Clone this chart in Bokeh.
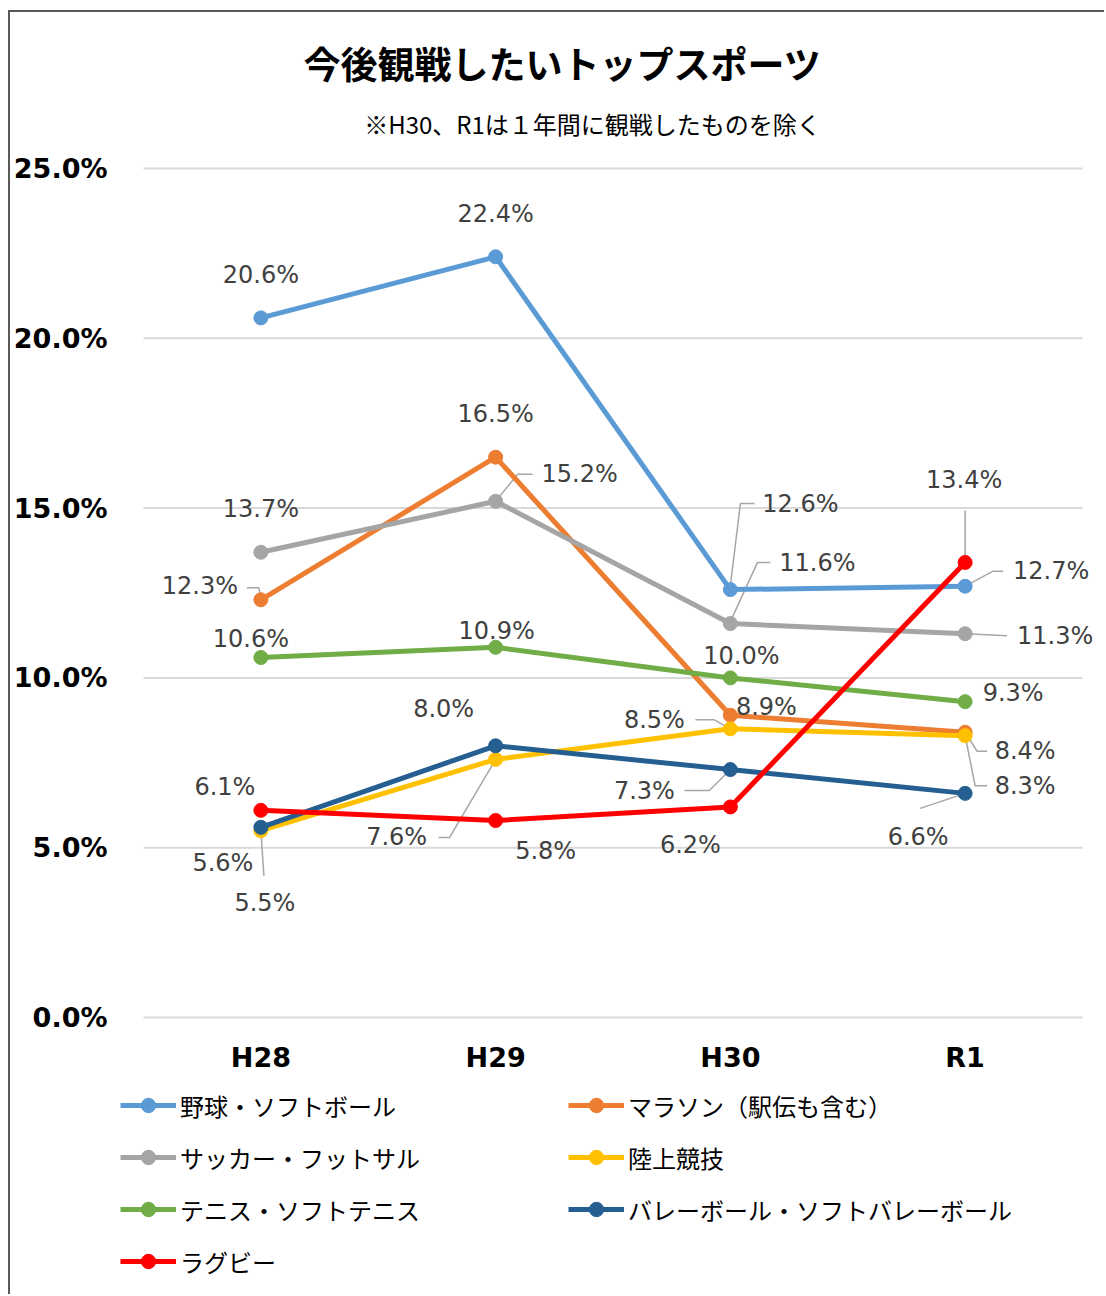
from bokeh.plotting import figure
from bokeh.models import (Range1d, FixedTicker, PrintfTickFormatter, Legend, LegendItem,
                          Label, LabelSet, ColumnDataSource)
from bokeh.embed import file_html
from bokeh.resources import INLINE
from bokeh.core.properties import value

# ---------------- data ----------------
categories = ["H28", "H29", "H30", "R1"]
baseball = [20.6, 22.4, 12.6, 12.7]
marathon = [12.3, 16.5, 8.9, 8.4]
soccer = [13.7, 15.2, 11.6, 11.3]
athletics = [5.5, 7.6, 8.5, 8.3]
tennis = [10.6, 10.9, 10.0, 9.3]
volleyball = [5.6, 8.0, 7.3, 6.6]
rugby = [6.1, 5.8, 6.2, 13.4]
series_names = ["野球・ソフトボール", "マラソン（駅伝も含む）", "サッカー・フットサル", "陸上競技",
                "テニス・ソフトテニス", "バレーボール・ソフトバレーボール", "ラグビー"]
y_ticks = [0, 5, 10, 15, 20, 25]
title_text = "今後観戦したいトップスポーツ"
subtitle_text = "※H30、R1は１年間に観戦したものを除く"

# ---------------- styles ----------------
colors = ["#5B9BD5", "#ED7D31", "#A5A5A5", "#FFC000", "#70AD47", "#255E91", "#FF0000"]
series = [baseball, marathon, soccer, athletics, tennis, volleyball, rugby]

# label offsets (px, screen: +x right, +y down) and leader polylines in px offsets
label_offsets = [
    [(0, -43), (0, -43), (70, -86), (86, -15)],
    [(-61, -14), (0, -43), (36, -8), (60, 19)],
    [(0, -43), (84, -27), (87, -61), (90, 2)],
    [(4, 72), (-99, 78), (-76, -9), (60, 50)],
    [(-10, -19), (1, -16), (11, -22), (48, -9)],
    [(-38, 36), (-52, -37), (-86, 21), (-47, 44)],
    [(-36, -23), (50, 30), (-40, 38), (-1, -82)],
]
leaders = [
    [None, None, [(0, -4), (10, -86), (24, -86)], [(0, 0), (28, -15), (38, -15)]],
    [[(0, -2), (-2, -12), (-14, -12)], None, None, [(0, 0), (12, 19), (22, 19)]],
    [None, [(0, 0), (22, -27), (37, -27)], [(0, -2), (27, -61), (40, -61)], [(0, 0), (42, 2)]],
    [[(0, 0), (3, 45)], [(0, 0), (-46, 78), (-57, 78)], [(0, 0), (-16, -9), (-35, -9)], [(0, 0), (10, 50), (22, 50)]],
    [None, None, None, None],
    [None, None, [(0, 0), (-21, 21), (-46, 21)], [(0, 0), (-45, 15)]],
    [None, None, None, [(0, 0), (0, -52)]],
]

# page layout (px)
CX0, CY0 = 10, 12            # canvas origin on page (after margin + border)
W, H = 1096, 1284
PLOT_L, PLOT_R, PLOT_T, PLOT_B = 143, 1082, 168, 1017   # value area (0%..25%, 4 categories)
XA0, XA1 = -0.5, 3.5
YA0, YA1 = 0, 25
PX_X = (PLOT_R - PLOT_L) / (XA1 - XA0)
PX_Y = (PLOT_B - PLOT_T) / (YA1 - YA0)


def px_to_data(px, py):
    return (XA0 + (px - PLOT_L) / PX_X, YA0 + (PLOT_B - py) / PX_Y)


X0, Y1 = px_to_data(CX0, CY0)
X1, Y0 = px_to_data(CX0 + W, CY0 + H)

p = figure(width=W, height=H, x_range=Range1d(X0, X1), y_range=Range1d(Y0, Y1),
           output_backend="svg", toolbar_location=None,
           min_border_left=0, min_border_right=0, min_border_top=0, min_border_bottom=0)
p.styles = {"margin-left": "8px", "margin-top": "10px",
            "border-left": "2px solid #595959", "border-top": "2px solid #595959"}
p.outline_line_color = None
p.background_fill_color = "white"
p.border_fill_color = "white"
p.xgrid.visible = False
p.ygrid.visible = False

# horizontal gridlines across the category span
p.segment(x0=[XA0] * len(y_ticks), x1=[XA1] * len(y_ticks), y0=y_ticks, y1=y_ticks,
          line_color="#d9d9d9", line_width=2, level="underlay")

p.yaxis.ticker = FixedTicker(ticks=y_ticks)
p.yaxis.formatter = PrintfTickFormatter(format="%.1f%%")
p.yaxis.fixed_location = XA0
p.xaxis.ticker = FixedTicker(ticks=list(range(len(categories))))
p.xaxis.major_label_overrides = {i: c for i, c in enumerate(categories)}
p.xaxis.fixed_location = YA0
for ax in (p.xaxis, p.yaxis):
    ax.axis_line_color = None
    ax.major_tick_line_color = None
    ax.minor_tick_line_color = None
    ax.major_label_text_font = "DejaVu Sans"
    ax.major_label_text_font_style = "bold"
    ax.major_label_text_font_size = "27px"
    ax.major_label_text_color = "black"
p.yaxis.major_label_standoff = 30
p.xaxis.major_label_standoff = 18

xs = list(range(len(categories)))
items = []
lx, ly, ltxt = [], [], []
seg_xs, seg_ys = [], []
for k, (name, vals, col) in enumerate(zip(series_names, series, colors)):
    lr = p.line(xs, vals, line_color=col, line_width=5)
    sr = p.scatter(xs, vals, marker="circle", size=14, fill_color=col, line_color=col)
    items.append(LegendItem(label=name, renderers=[lr, sr]))
    for i, v in enumerate(vals):
        dx, dy = label_offsets[k][i]
        lx.append(xs[i] + dx / PX_X)
        ly.append(v - dy / PX_Y)
        ltxt.append(f"{v:.1f}%")
        ld = leaders[k][i]
        if ld:
            seg_xs.append([xs[i] + a / PX_X for a, b in ld])
            seg_ys.append([v - b / PX_Y for a, b in ld])

p.multi_line(seg_xs, seg_ys, line_color="#a6a6a6", line_width=1.5, level="underlay")

src = ColumnDataSource(dict(x=lx, y=ly, t=ltxt))
p.add_layout(LabelSet(x="x", y="y", text="t", source=src, text_align="center",
                      text_baseline="middle", text_font=value("DejaVu Sans"),
                      text_font_size="24px", text_color="#404040"))

tx, ty = px_to_data(562, 62)
p.add_layout(Label(x=tx, y=ty, text=title_text, text_align="center", text_baseline="middle",
                   text_font="Noto Sans CJK JP", text_font_style="bold", text_font_size="37px",
                   text_color="black"))
sx, sy = px_to_data(592, 123)
p.add_layout(Label(x=sx, y=sy, text=subtitle_text, text_align="center", text_baseline="middle",
                   text_font="Noto Sans CJK JP", text_font_size="24px", text_color="black"))

# legend: top-left of glyph area at page (120, 1085); 4 rows of 40px + 12px spacing
LEG_L, LEG_B = 120, 1085 + 4 * 40 + 3 * 12
legend = Legend(items=items, location=(LEG_L - CX0, (CY0 + H) - LEG_B),
                orientation="horizontal", ncols=2,
                glyph_width=56, glyph_height=36, label_standoff=4, label_width=376,
                label_height=40, spacing=12, padding=0, margin=0,
                border_line_color=None, background_fill_alpha=0,
                label_text_font="Noto Sans CJK JP", label_text_font_size="24px",
                label_text_color="black")
p.add_layout(legend, "center")

open("out.html", "w").write(file_html(p, INLINE))
